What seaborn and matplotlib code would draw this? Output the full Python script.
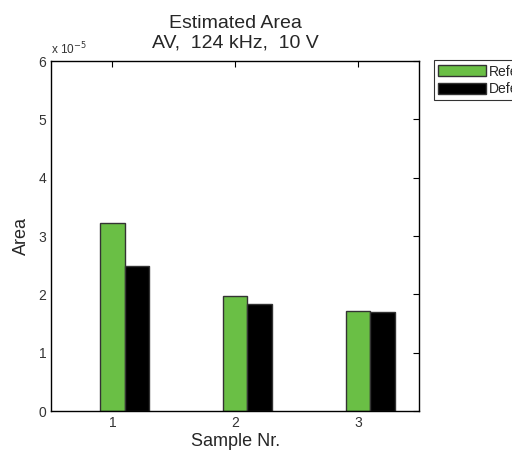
import matplotlib
matplotlib.use("Agg")
from matplotlib import pyplot as plt
import seaborn as sns
import pandas as pd

# data
samples = ["1", "2", "3"]
reference_area = [3.22e-5, 1.98e-5, 1.72e-5]
defect_area = [2.49e-5, 1.83e-5, 1.70e-5]
conditions = ["Reference", "Defect"]
ytick_values = [0, 1e-5, 2e-5, 3e-5, 4e-5, 5e-5, 6e-5]
ytick_labels = ["0", "1", "2", "3", "4", "5", "6"]

df = pd.DataFrame({
    "Sample": samples * 2,
    "Area": reference_area + defect_area,
    "Condition": [conditions[0]] * 3 + [conditions[1]] * 3,
})

sns.set_style("white")
plt.rcParams["font.family"] = ["Liberation Sans", "DejaVu Sans"]

fig = plt.figure(figsize=(5.12, 4.58), dpi=100)
ax = fig.add_axes([0.0996, 0.1026, 0.7191, 0.7642])

sns.barplot(data=df, x="Sample", y="Area", hue="Condition",
            palette=["#6abf45", "#000000"], saturation=1, width=0.4, gap=0,
            edgecolor="#333333", linewidth=1.0, ax=ax)

# green bars sit on the tick, black ones next to them (MATLAB style)
ax.set_xticks([i - 0.1 for i in range(len(samples))])
ax.set_xticklabels(samples)
ax.set_xlim(-0.6, 2.4)
ax.set_ylim(0, 6e-5)
ax.set_yticks(ytick_values)
ax.set_yticklabels(ytick_labels)

ax.tick_params(direction="in", top=True, right=True, length=4,
               labelsize=10, colors="black", labelcolor="#333333")
for s in ax.spines.values():
    s.set_visible(True)
    s.set_color("black")
    s.set_linewidth(1.0)

ax.set_xlabel("Sample Nr.", fontsize=13, labelpad=2)
ax.set_ylabel("Area", fontsize=13, labelpad=6)
ax.set_title("Estimated Area\nAV,  124 kHz,  10 V", fontsize=14,
             linespacing=1.15, pad=10)
ax.text(0.0, 1.012, "x 10$^{-5}$", transform=ax.transAxes,
        fontsize=8.5, ha="left", va="bottom", color="#333333")

leg = ax.legend(loc="upper left", bbox_to_anchor=(0.847, 0.868),
                bbox_transform=fig.transFigure, frameon=True, fancybox=False,
                fontsize=10, handlelength=3.5, handleheight=0.8,
                handletextpad=0.2, borderpad=0.3, labelspacing=0.25,
                borderaxespad=0)
leg.get_frame().set_edgecolor("black")
leg.get_frame().set_linewidth(0.8)

fig.savefig("out.png", dpi=100)
